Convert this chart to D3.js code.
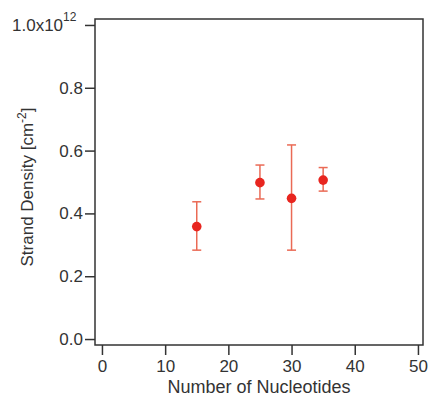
<!DOCTYPE html>
<html>
<head>
<meta charset="utf-8">
<script src="https://cdn.jsdelivr.net/npm/d3@7"></script>
<style>
  body { margin: 0; background: #fff; }
  text { font-family: "Liberation Sans", Arial, sans-serif; fill: #333; }
</style>
</head>
<body>
<div id="chart"></div>
<script>
const nucleotides = [15, 25, 30, 35];
const density = [0.358, 0.498, 0.448, 0.506];
const errLow = [0.283, 0.446, 0.283, 0.471];
const errHigh = [0.437, 0.554, 0.618, 0.546];
const xTicks = [0, 10, 20, 30, 40, 50];
const yTicks = [0, 0.2, 0.4, 0.6, 0.8, 1.0];

const width = 430, height = 402;
const margin = { top: 19, right: 7, bottom: 57, left: 95 };

const svg = d3.select("#chart").append("svg")
    .attr("width", width)
    .attr("height", height);

const x = d3.scaleLinear().domain([-1.1, 50.8]).range([margin.left, width - margin.right]);
const y = d3.scaleLinear().domain([-0.019, 1.019]).range([height - margin.bottom, margin.top]);

// frame
svg.append("rect")
    .attr("x", margin.left)
    .attr("y", margin.top)
    .attr("width", width - margin.left - margin.right)
    .attr("height", height - margin.top - margin.bottom)
    .attr("fill", "none")
    .attr("stroke", "#333")
    .attr("stroke-width", 1.5);

// x axis
const xAxis = svg.append("g")
    .attr("transform", "translate(0," + (height - margin.bottom) + ")")
    .call(d3.axisBottom(x).tickValues(xTicks).tickSize(10).tickPadding(5).tickFormat(d3.format("d")));
xAxis.select(".domain").remove();
xAxis.selectAll("line").attr("stroke", "#333").attr("stroke-width", 1.5);
xAxis.selectAll("text").style("font-size", "17px").attr("fill", "#333");

// y axis
const yAxis = svg.append("g")
    .attr("transform", "translate(" + margin.left + ",0)")
    .call(d3.axisLeft(y).tickValues(yTicks).tickSize(10).tickPadding(2)
        .tickFormat(d => d === 1 ? "" : d3.format(".1f")(d)));
yAxis.select(".domain").remove();
yAxis.selectAll("line").attr("stroke", "#333").attr("stroke-width", 1.5);
yAxis.selectAll("text").style("font-size", "17px").attr("fill", "#333");

// top label with exponent
const topLabel = svg.append("text")
    .attr("x", 12)
    .attr("y", y(1.0) + 6)
    .style("font-size", "17px");
topLabel.append("tspan").text("1.0x10");
topLabel.append("tspan").attr("dy", -10).style("font-size", "12px").text("12");

// axis titles
svg.append("text")
    .attr("x", (margin.left + width - margin.right) / 2)
    .attr("y", 393)
    .attr("text-anchor", "middle")
    .style("font-size", "18px")
    .text("Number of Nucleotides");

const yTitle = svg.append("text")
    .attr("transform", "translate(33," + 187 + ") rotate(-90)")
    .attr("text-anchor", "middle")
    .style("font-size", "17px");
yTitle.append("tspan").text("Strand Density [cm");
yTitle.append("tspan").attr("dy", -7).style("font-size", "12px").text("-2");
yTitle.append("tspan").attr("dy", 7).text("]");

// error bars
const data = nucleotides.map((n, i) => ({ n, v: density[i], lo: errLow[i], hi: errHigh[i] }));
const errColor = "#ea6a55";
const capW = 4.5;

const bars = svg.append("g").selectAll("g").data(data).join("g");
bars.append("line")
    .attr("x1", d => x(d.n)).attr("x2", d => x(d.n))
    .attr("y1", d => y(d.lo)).attr("y2", d => y(d.hi))
    .attr("stroke", errColor).attr("stroke-width", 1.5);
bars.append("line")
    .attr("x1", d => x(d.n) - capW).attr("x2", d => x(d.n) + capW)
    .attr("y1", d => y(d.hi)).attr("y2", d => y(d.hi))
    .attr("stroke", errColor).attr("stroke-width", 1.5);
bars.append("line")
    .attr("x1", d => x(d.n) - capW).attr("x2", d => x(d.n) + capW)
    .attr("y1", d => y(d.lo)).attr("y2", d => y(d.lo))
    .attr("stroke", errColor).attr("stroke-width", 1.5);
bars.append("circle")
    .attr("cx", d => x(d.n))
    .attr("cy", d => y(d.v))
    .attr("r", 4.8)
    .attr("fill", "#e8251f");
</script>
</body>
</html>
